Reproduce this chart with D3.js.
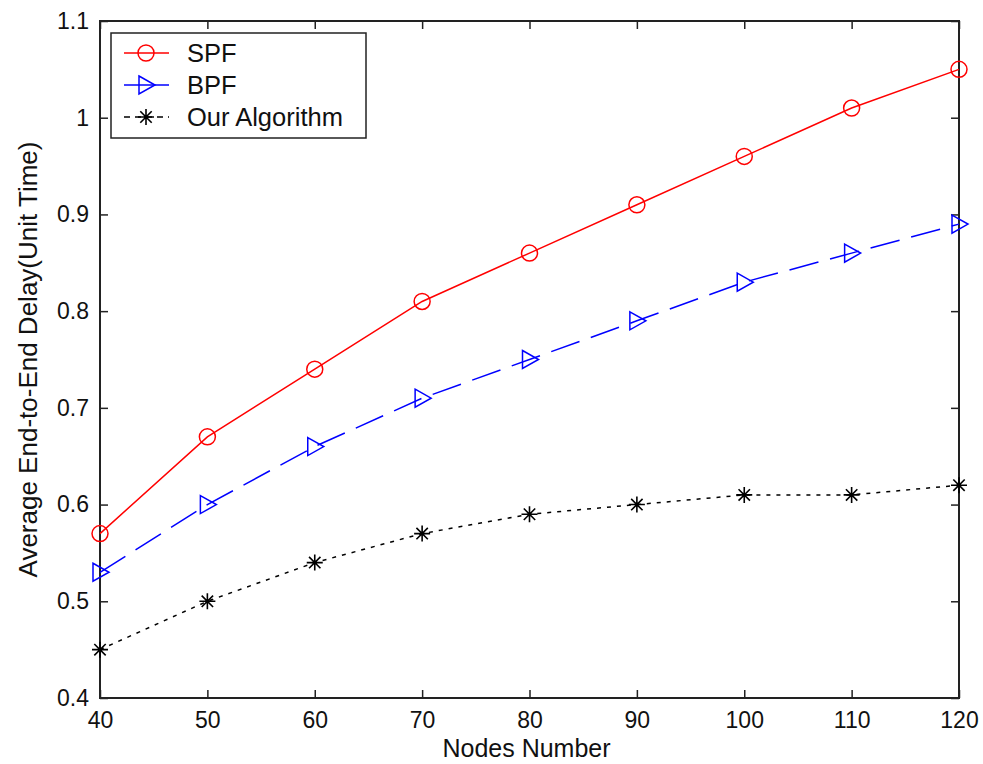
<!DOCTYPE html>
<html lang="en">
<head>
    <meta charset="UTF-8">
    <title>Average End-to-End Delay</title>
    <style>
        body {
            margin: 0;
            background-color: white;
        }
        svg {
            display: block;
            font-family: "Liberation Sans", Arial, sans-serif;
        }
    </style>
</head>
<body>
    <svg width="983" height="764"></svg>
    <script src="https://d3js.org/d3.v7.min.js"></script>
    <script>
        const nodes = [40, 50, 60, 70, 80, 90, 100, 110, 120];
        const spf = [0.57, 0.67, 0.74, 0.81, 0.86, 0.91, 0.96, 1.01, 1.05];
        const bpf = [0.53, 0.60, 0.66, 0.71, 0.75, 0.79, 0.83, 0.86, 0.89];
        const ours = [0.45, 0.50, 0.54, 0.57, 0.59, 0.60, 0.61, 0.61, 0.62];
        const yTicks = [0.4, 0.5, 0.6, 0.7, 0.8, 0.9, 1, 1.1];
        const seriesNames = ["SPF", "BPF", "Our Algorithm"];

        const svg = d3.select("svg");
        const plotLeft = 100, plotRight = 959, plotTop = 21, plotBottom = 698;

        const x = d3.scaleLinear().domain([40, 120]).range([plotLeft, plotRight]);
        const y = d3.scaleLinear().domain([0.4, 1.1]).range([plotBottom, plotTop]);

        // axes: ticks point inward, mirrored on top and right
        const tickLen = 8;
        svg.append("g").attr("transform", `translate(0,${plotBottom})`)
            .call(d3.axisBottom(x).tickValues(nodes).tickSizeInner(-tickLen).tickSizeOuter(0).tickPadding(14));
        svg.append("g").attr("transform", `translate(0,${plotTop})`)
            .call(d3.axisTop(x).tickValues(nodes).tickSizeInner(-tickLen).tickSizeOuter(0).tickFormat(""));
        svg.append("g").attr("transform", `translate(${plotLeft},0)`)
            .call(d3.axisLeft(y).tickValues(yTicks).tickSizeInner(-tickLen).tickSizeOuter(0).tickPadding(11)
                .tickFormat(d => String(+d.toFixed(1))));
        svg.append("g").attr("transform", `translate(${plotRight},0)`)
            .call(d3.axisRight(y).tickValues(yTicks).tickSizeInner(-tickLen).tickSizeOuter(0).tickFormat(""));

        svg.selectAll(".tick line").attr("stroke", "#222").attr("stroke-width", 1.5);
        svg.selectAll(".domain").remove();
        svg.selectAll(".tick text").attr("font-size", 23).attr("fill", "#111")
            .attr("font-family", "Liberation Sans, Arial, sans-serif");

        svg.append("rect")
            .attr("x", plotLeft).attr("y", plotTop)
            .attr("width", plotRight - plotLeft).attr("height", plotBottom - plotTop)
            .attr("fill", "none").attr("stroke", "#222").attr("stroke-width", 2);

        // axis labels
        svg.append("text")
            .attr("x", (plotLeft + plotRight) / 2 - 3).attr("y", 757)
            .attr("text-anchor", "middle").attr("font-size", 25).attr("fill", "#111")
            .text("Nodes Number");
        svg.append("text")
            .attr("transform", `translate(37,${(plotTop + plotBottom) / 2}) rotate(-90)`)
            .attr("text-anchor", "middle").attr("font-size", 26).attr("fill", "#111")
            .text("Average End-to-End Delay(Unit Time)");

        // marker shapes
        function drawMarker(g, kind, color) {
            if (kind === "circle") {
                g.append("circle").attr("r", 8).attr("fill", "none").attr("stroke", color).attr("stroke-width", 1.5);
            } else if (kind === "triangle") {
                g.append("path").attr("d", "M-7,-9 L9,0 L-7,9 Z")
                    .attr("fill", "none").attr("stroke", color).attr("stroke-width", 1.5);
            } else {
                const s = 8, d = 5.7;
                g.append("path")
                    .attr("d", `M${-s},0 L${s},0 M0,${-s} L0,${s} M${-d},${-d} L${d},${d} M${-d},${d} L${d},${-d}`)
                    .attr("stroke", color).attr("stroke-width", 1.6);
            }
        }

        const series = [
            { name: seriesNames[0], values: spf, color: "#ff0000", dash: null, marker: "circle" },
            { name: seriesNames[1], values: bpf, color: "#0000ff", dash: "30,12", marker: "triangle" },
            { name: seriesNames[2], values: ours, color: "#000000", dash: "4,6", marker: "star" }
        ];

        const line = d3.line().x((d, i) => x(nodes[i])).y(d => y(d));

        series.forEach(s => {
            svg.append("path")
                .datum(s.values)
                .attr("d", line)
                .attr("fill", "none")
                .attr("stroke", s.color)
                .attr("stroke-width", 1.5)
                .attr("stroke-dasharray", s.dash);
            s.values.forEach((v, i) => {
                const g = svg.append("g").attr("transform", `translate(${x(nodes[i])},${y(v)})`);
                drawMarker(g, s.marker, s.color);
            });
        });

        // legend
        const legend = svg.append("g");
        legend.append("rect")
            .attr("x", 111).attr("y", 33).attr("width", 255).attr("height", 105)
            .attr("fill", "white").attr("stroke", "#222").attr("stroke-width", 1.5);
        series.forEach((s, i) => {
            const ly = 53 + i * 32;
            legend.append("line")
                .attr("x1", 124).attr("x2", 169).attr("y1", ly).attr("y2", ly)
                .attr("stroke", s.color).attr("stroke-width", 1.5)
                .attr("stroke-dasharray", i === 2 ? "6,5" : null);
            drawMarker(legend.append("g").attr("transform", `translate(146,${ly})`), s.marker, s.color);
            legend.append("text")
                .attr("x", 187).attr("y", ly + 9)
                .attr("font-size", 25.5).attr("fill", "#111")
                .text(s.name);
        });
    </script>
</body>
</html>
